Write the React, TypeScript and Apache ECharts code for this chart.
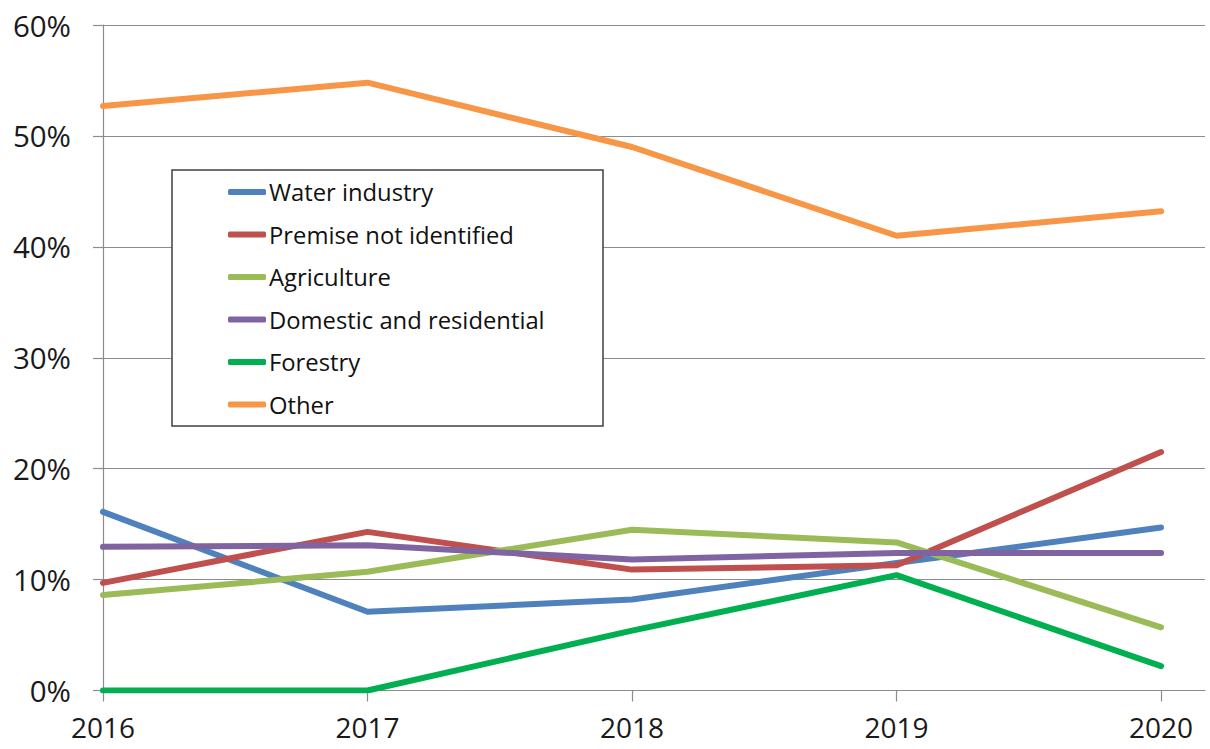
import React, { useEffect, useRef } from "react";
import * as echarts from "echarts";

const years = [2016, 2017, 2018, 2019, 2020];
const seriesNames = [
  "Water industry",
  "Premise not identified",
  "Agriculture",
  "Domestic and residential",
  "Forestry",
  "Other",
];
const waterIndustry = [16.1, 7.1, 8.2, 11.5, 14.7];
const premiseNotIdentified = [9.7, 14.3, 10.9, 11.3, 21.5];
const agriculture = [8.6, 10.7, 14.5, 13.35, 5.7];
const domesticResidential = [12.95, 13.1, 11.8, 12.4, 12.4];
const forestry = [0, 0, 5.4, 10.4, 2.2];
const other = [52.7, 54.8, 49.0, 41.0, 43.2];
const colors = ["#4F81BD", "#C0504D", "#9BBB59", "#8064A2", "#00B050", "#F79646"];
const yTicks = [0, 10, 20, 30, 40, 50, 60];

const allValues = [waterIndustry, premiseNotIdentified, agriculture, domesticResidential, forestry, other];

export default function App() {
  const ref = useRef<HTMLDivElement>(null);
  useEffect(() => {
    if (!ref.current) return;
    const chart = echarts.init(ref.current, null, { renderer: "svg" });
    const font = "'Open Sans', sans-serif";
    chart.setOption({
      animation: false,
      backgroundColor: "#ffffff",
      grid: { left: 103, right: 5, top: 25, bottom: 58.5, containLabel: false },
      xAxis: {
        type: "value",
        min: 2016,
        max: 2020.166,
        interval: 1,
        axisLine: { show: true, onZero: false, lineStyle: { color: "#8c8c8c", width: 1.2 } },
        axisTick: { show: true, length: 11, customValues: years, lineStyle: { color: "#8c8c8c", width: 1.2 } },
        splitLine: { show: false },
        axisLabel: {
          customValues: years,
          formatter: (v: number) => String(Math.round(v)),
          fontFamily: font,
          fontSize: 28,
          color: "#1a1a1a",
          margin: 22,
        },
      },
      yAxis: {
        type: "value",
        min: yTicks[0],
        max: yTicks[yTicks.length - 1],
        interval: 10,
        axisLine: { show: true, lineStyle: { color: "#8c8c8c", width: 1.2 } },
        axisTick: { show: true, length: 10, lineStyle: { color: "#8c8c8c", width: 1.2 } },
        splitLine: { show: true, lineStyle: { color: "#8c8c8c", width: 1.2 } },
        axisLabel: {
          formatter: "{value}%",
          fontFamily: font,
          fontSize: 29.5,
          color: "#1a1a1a",
          margin: 32,
        },
      },
      legend: {
        orient: "vertical",
        left: 228,
        top: 179,
        padding: 0,
        itemGap: 16.5,
        itemWidth: 38,
        itemHeight: 6,
        icon: "roundRect",
        textStyle: { fontFamily: font, fontSize: 23.8, color: "#111", lineHeight: 26, padding: [0, 0, 0, -2] },
        data: seriesNames,
        z: 5,
      },
      graphic: [
        {
          type: "rect",
          z: 3,
          shape: { x: 172, y: 170, width: 431, height: 256 },
          style: { fill: "#ffffff", stroke: "#404040", lineWidth: 1.5 },
        },
      ],
      series: seriesNames.map((name, i) => ({
        name,
        type: "line",
        data: years.map((y, j) => [y, allValues[i][j]]),
        showSymbol: false,
        symbol: "none",
        color: colors[i],
        lineStyle: { width: 6, color: colors[i], cap: "round", join: "round" },
        itemStyle: { color: colors[i] },
        z: 2,
      })),
    });
    return () => chart.dispose();
  }, []);
  return (
    <div
      ref={ref}
      style={{ position: "fixed", left: 0, top: 0, width: 1210, height: 749 }}
    />
  );
}
